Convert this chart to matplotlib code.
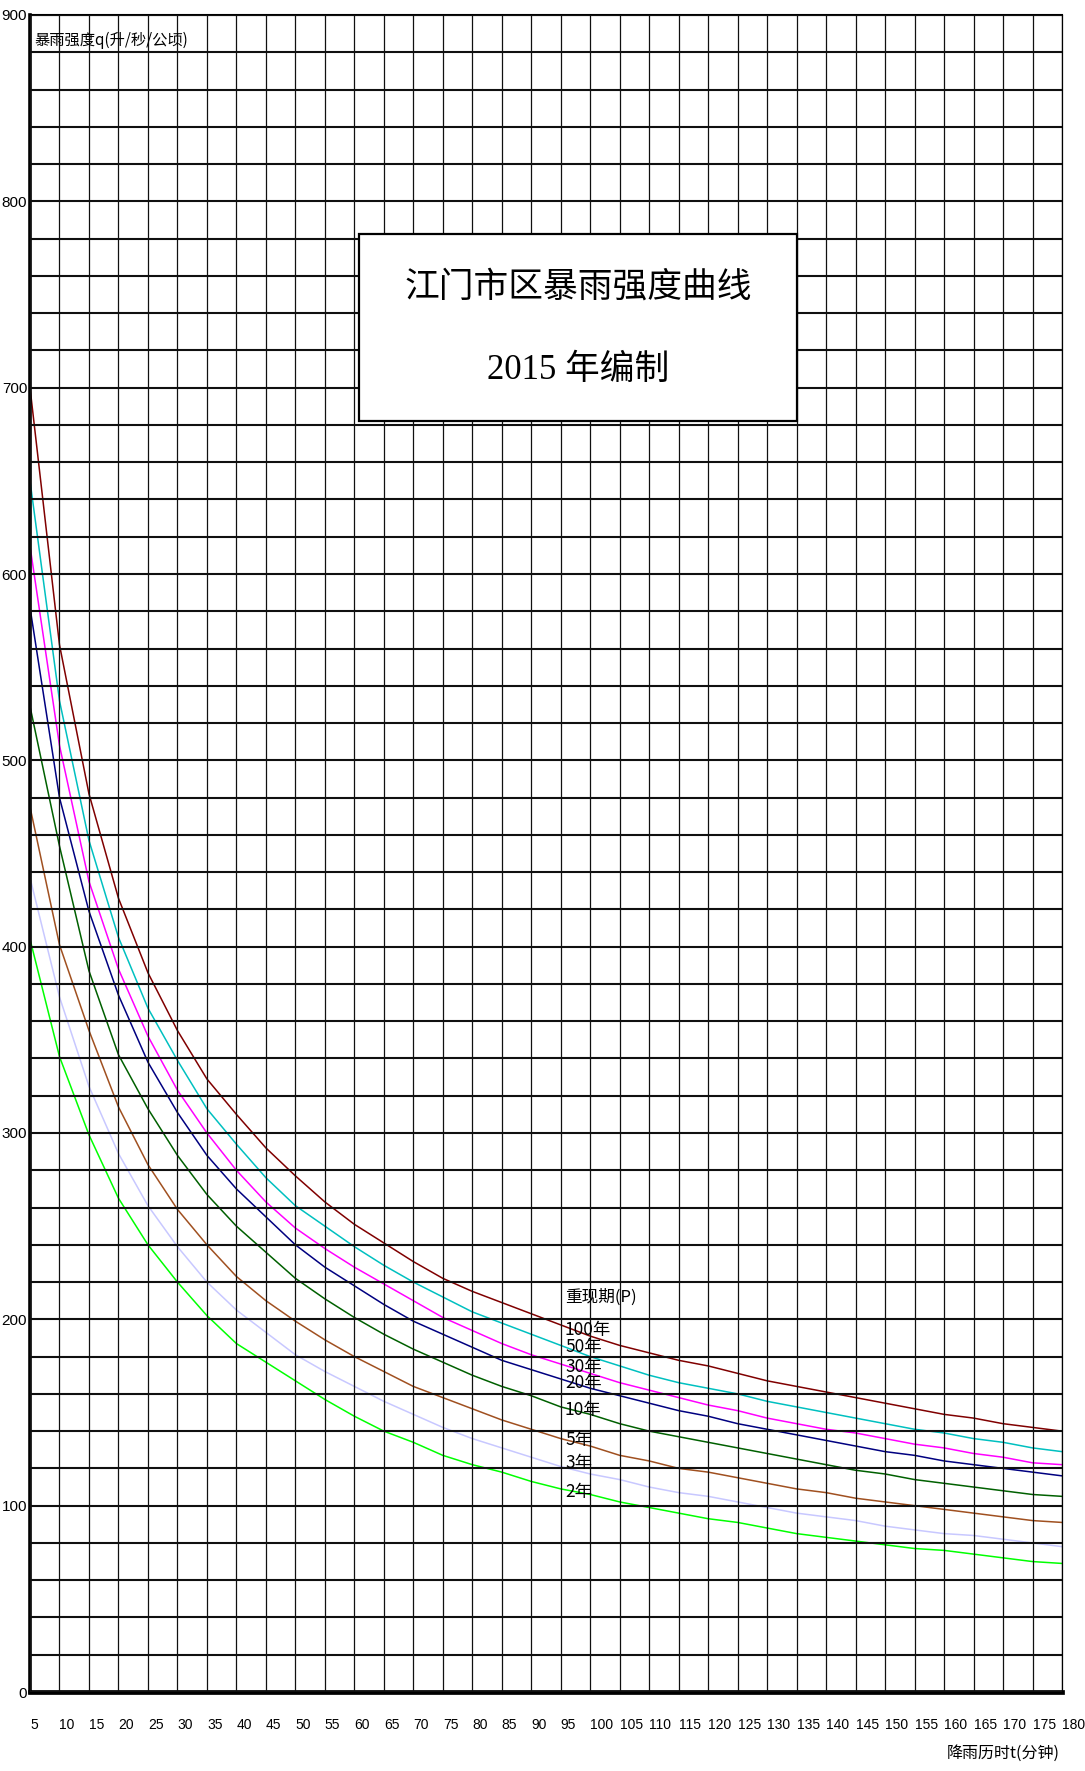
# 江门市区暴雨强度曲线 (2015)
# values, every 5 minutes

import numpy as np
import matplotlib
matplotlib.use('Agg')
import matplotlib.pyplot as plt
from matplotlib.patches import Rectangle
from matplotlib.ticker import MultipleLocator

plt.rcParams['font.family'] = ['Noto Sans CJK SC', 'DejaVu Sans']

# duration t (min)
durations = np.arange(5, 185, 5)

# intensity q (L/s/ha) per return period
q100 = [700, 562, 482, 426, 386, 355, 329, 310, 292, 277, 263, 251, 241, 231, 222, 215, 209, 203,
        197, 191, 186, 182, 178, 175, 171, 167, 164, 161, 158, 155, 152, 149, 147, 144, 142, 140]
q50 = [650, 532, 457, 405, 367, 339, 313, 294, 276, 261, 250, 239, 229, 220, 212, 204, 198, 192,
       186, 180, 175, 170, 166, 163, 160, 156, 153, 150, 147, 144, 141, 139, 136, 134, 131, 129]
q30 = [615, 508, 435, 388, 352, 323, 300, 280, 263, 249, 238, 228, 219, 210, 201, 194, 187, 181,
       176, 171, 166, 162, 158, 154, 151, 147, 144, 141, 139, 136, 133, 131, 128, 126, 123, 122]
q20 = [582, 480, 419, 374, 338, 311, 288, 270, 255, 240, 228, 218, 208, 199, 192, 185, 178, 173,
       168, 163, 159, 155, 151, 148, 144, 141, 138, 135, 132, 129, 127, 124, 122, 120, 118, 116]
q10 = [529, 454, 387, 342, 313, 288, 267, 250, 236, 222, 211, 201, 192, 184, 177, 170, 164, 159,
       153, 149, 144, 140, 137, 134, 131, 128, 125, 122, 119, 117, 114, 112, 110, 108, 106, 105]
q5 = [475, 401, 355, 314, 283, 259, 240, 223, 210, 199, 189, 180, 172, 164, 158, 152, 146, 141,
      136, 132, 127, 124, 120, 118, 115, 112, 109, 107, 104, 102, 100, 98, 96, 94, 92, 91]
q3 = [437, 373, 325, 289, 261, 239, 220, 205, 193, 181, 172, 164, 156, 149, 142, 136, 131, 126,
      121, 117, 114, 110, 107, 105, 102, 99, 96, 94, 92, 89, 87, 85, 84, 82, 80, 78]
q2 = [404, 341, 299, 265, 240, 220, 202, 187, 177, 167, 157, 148, 140, 134, 127, 122, 118, 113,
      109, 106, 102, 99, 96, 93, 91, 88, 85, 83, 81, 79, 77, 76, 74, 72, 70, 69]

periods = ['100年', '50年', '30年', '20年', '10年', '5年', '3年', '2年']
series = [q100, q50, q30, q20, q10, q5, q3, q2]
colors = ['#800000', '#00C0C0', '#FF00FF', '#000080', '#006000', '#A05020', '#C8C8FF', '#00FF00']

# where the period labels sit (axes fraction), stacked like the original
label_y = [0.2159, 0.2057, 0.1938, 0.1843, 0.1682, 0.1503, 0.1366, 0.1193]

tick_font = ['Liberation Sans', 'DejaVu Sans']

if __name__ == '__main__':
    fig = plt.figure(figsize=(10.85, 17.71), dpi=100)
    ax = fig.add_axes([30 / 1085, 79 / 1771, 1032 / 1085, 1677 / 1771])

    for q, c in zip(series, colors):
        ax.plot(durations, q, color=c, lw=1.1, zorder=2)

    ax.set_xlim(5, 180)
    ax.set_ylim(0, 900)
    ax.xaxis.set_major_locator(MultipleLocator(5))
    ax.yaxis.set_major_locator(MultipleLocator(100))
    ax.yaxis.set_minor_locator(MultipleLocator(20))

    # grid over the curves, like the scanned chart
    ax.set_axisbelow(False)
    ax.grid(axis='y', which='both', color='#101010', lw=1.5)
    ax.grid(axis='x', which='major', color='#101010', lw=0.9)

    ax.tick_params(axis='both', which='both', length=0)
    ax.tick_params(axis='y', pad=2)
    ax.tick_params(axis='x', pad=19)
    for lab in ax.get_xticklabels():
        lab.set_horizontalalignment('left')
        lab.set_family(tick_font)
        lab.set_fontsize(10)
    for lab in ax.get_yticklabels():
        lab.set_family(tick_font)
        lab.set_fontsize(11)

    ax.spines['left'].set_linewidth(2.6)
    ax.spines['bottom'].set_linewidth(3.4)
    ax.spines['top'].set_linewidth(1.5)
    ax.spines['right'].set_linewidth(0.9)

    # axis titles
    ax.text(0.004, 0.985, '暴雨强度q(升/秒/公顷)', transform=ax.transAxes,
            fontsize=11, ha='left', va='center', zorder=6)
    ax.text(0.998, -0.0365, '降雨历时t(分钟)', transform=ax.transAxes,
            fontsize=11.5, ha='right', va='center', clip_on=False)

    # title box
    ax.add_patch(Rectangle((0.3188, 0.7579), 0.4244, 0.1115, transform=ax.transAxes,
                           facecolor='white', edgecolor='black', lw=1.6, zorder=5))
    ax.text(0.531, 0.8378, '江门市区暴雨强度曲线', transform=ax.transAxes,
            fontsize=25, ha='center', va='center', zorder=6)
    ax.text(0.531, 0.7883, '2015 年编制', transform=ax.transAxes,
            family=['Liberation Serif', 'Noto Sans CJK SC'],
            fontsize=25, ha='center', va='center', zorder=6)

    # return period labels
    ax.text(0.5184, 0.2355, '重现期(P)', transform=ax.transAxes,
            fontsize=12, ha='left', va='center', zorder=6)
    for name, y in zip(periods, label_y):
        ax.text(0.5184, y, name, transform=ax.transAxes,
                fontsize=12.5, ha='left', va='center', zorder=6)

    fig.savefig('out.png', dpi=100)
